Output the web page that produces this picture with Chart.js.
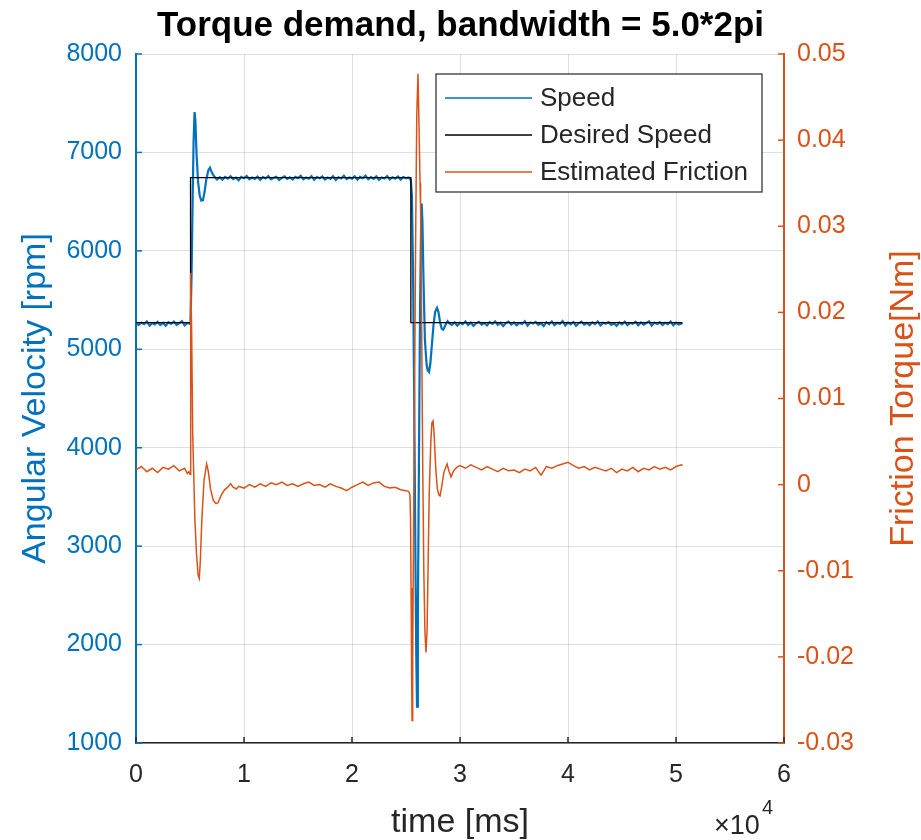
<!DOCTYPE html>
<html lang="en">
<head>
<meta charset="utf-8">
<title>Torque demand, bandwidth = 5.0*2pi</title>
<script src="https://cdn.jsdelivr.net/npm/chart.js@4/dist/chart.umd.min.js"></script>
<style>
  html, body { margin: 0; padding: 0; background: #fff; }
  canvas { display: block; }
</style>
</head>
<body>
<canvas id="chart" width="921" height="840"></canvas>
<script>
// [time ms, rpm]
const speedPoints = [
  [0,5262],[250,5248],[500,5271],[750,5255],[1000,5283],[1250,5241],[1500,5266],[1750,5252],[2000,5278],[2250,5246],
  [2500,5269],[2750,5238],[3000,5274],[3250,5257],[3500,5281],[3750,5249],[4000,5263],[4250,5286],[4500,5244],[4750,5268],
  // step up
  [5000,5258],[5060,5300],[5150,5800],[5250,6550],[5330,7100],[5420,7410],[5500,7320],[5600,7000],[5750,6700],[5900,6560],
  [6050,6510],[6200,6515],[6350,6600],[6500,6720],[6700,6820],[6850,6845],[7000,6800],[7250,6755],[7500,6725],
  [7750,6748],[8000,6722],[8250,6751],[8500,6733],[8750,6758],[9000,6729],[9250,6745],[9500,6717],[9750,6752],[10000,6738],
  [10250,6761],[10500,6726],[10750,6744],[11000,6730],[11250,6755],[11500,6721],[11750,6749],[12000,6735],[12250,6760],[12500,6727],
  [12750,6743],[13000,6752],[13250,6719],[13500,6741],[13750,6757],[14000,6732],[14250,6748],[14500,6724],[14750,6753],[15000,6739],
  [15250,6762],[15500,6728],[15750,6746],[16000,6733],[16250,6759],[16500,6722],[16750,6750],[17000,6737],[17250,6756],[17500,6725],
  [17750,6744],[18000,6731],[18250,6758],[18500,6720],[18750,6747],[19000,6736],[19250,6763],[19500,6729],[19750,6745],[20000,6734],
  [20250,6757],[20500,6723],[20750,6751],[21000,6738],[21250,6764],[21500,6727],[21750,6749],[22000,6732],[22250,6756],[22500,6721],
  [22750,6746],[23000,6735],[23250,6760],[23500,6726],[23750,6748],[24000,6733],[24250,6755],[24500,6724],[24750,6750],[25000,6737],
  [25250,6745],
  // step down
  [25450,6720],[25550,6550],[25650,5800],[25750,4600],[25850,3200],[25950,1900],[26020,1370],[26100,2300],[26200,3900],[26300,5400],
  [26400,6300],[26450,6480],[26520,6300],[26620,5700],[26750,5100],[26900,4850],[27000,4790],[27130,4770],[27250,4850],[27400,5050],
  [27550,5250],[27700,5380],[27870,5420],[28000,5380],[28150,5280],[28300,5210],[28430,5200],[28550,5220],[28700,5260],[28850,5285],
  [29000,5262],
  [29250,5248],[29500,5274],[29750,5241],[30000,5269],[30250,5255],[30500,5283],[30750,5246],[31000,5271],[31250,5238],[31500,5264],
  [31750,5279],[32000,5251],[32250,5267],[32500,5243],[32750,5276],[33000,5259],[33250,5284],[33500,5247],[33750,5270],[34000,5236],
  [34250,5266],[34500,5281],[34750,5252],[35000,5273],[35250,5244],[35500,5268],[35750,5257],[36000,5285],[36250,5240],[36500,5272],
  [36750,5261],[37000,5278],[37250,5249],[37500,5265],[37750,5237],[38000,5275],[38250,5254],[38500,5282],[38750,5246],[39000,5269],
  [39250,5258],[39500,5286],[39750,5242],[40000,5271],[40250,5253],[40500,5277],[40750,5239],[41000,5264],[41250,5280],[41500,5250],
  [41750,5267],[42000,5245],[42250,5274],[42500,5256],[42750,5283],[43000,5241],[43250,5270],[43500,5259],[43750,5276],[44000,5248],
  [44250,5265],[44500,5237],[44750,5272],[45000,5254],[45250,5281],[45500,5246],[45750,5268],[46000,5260],[46250,5279],[46500,5243],
  [46750,5273],[47000,5251],[47250,5266],[47500,5284],[47750,5240],[48000,5271],[48250,5257],[48500,5275],[48750,5247],[49000,5269],
  [49250,5255],[49500,5282],[49750,5244],[50000,5270],[50250,5252],[50500,5263],[50600,5258]
];

// [time ms, rpm]
const desiredPoints = [
  [0,5270],[5050,5270],[5050,6745],[25450,6745],[25450,5270],[50600,5270]
];

// [time ms, Nm]
const frictionPoints = [
  [0,0.0017],[500,0.0021],[1000,0.0015],[1500,0.0019],[2000,0.0014],[2500,0.0020],[3000,0.0018],[3500,0.0022],[4000,0.0016],[4500,0.0019],
  [4750,0.0013],[4900,0.0015],[5000,0.0012],
  [5040,0.012],[5090,0.0246],[5150,0.018],[5250,0.006],[5350,0.001],[5450,-0.004],[5600,-0.008],[5750,-0.0105],[5860,-0.0109],
  [5950,-0.009],[6100,-0.004],[6300,0.0005],[6540,0.0024],[6700,0.0015],[6900,-0.0005],[7150,-0.0018],[7400,-0.0022],[7600,-0.0021],
  [7900,-0.0012],[8200,-0.0006],[8500,-0.0003],[8750,0.0001],[9000,-0.0003],[9300,-0.0005],
  [9500,-0.0002],[10000,-0.0004],[10500,0.0000],[11000,-0.0003],[11500,0.0001],[12000,-0.0002],[12500,0.0002],[13000,0.0000],
  [13500,0.0003],[14000,-0.0001],[14500,0.0001],[15000,-0.0002],[15500,0.0001],[16000,0.0003],[16500,-0.0001],[17000,0.0000],
  [17500,-0.0003],[18000,0.0001],[18500,-0.0002],[19000,-0.0004],[19500,-0.0007],[20000,-0.0003],[20500,0.0000],[21000,0.0003],
  [21500,-0.0001],[22000,0.0002],[22500,0.0003],[23000,-0.0002],[23500,-0.0004],[24000,-0.0003],[24500,-0.0006],[25000,-0.0007],
  [25250,-0.0008],[25370,-0.0012],[25420,-0.004],[25470,-0.012],[25520,-0.022],[25560,-0.0274],[25620,-0.02],[25700,-0.005],
  [25800,0.012],[25900,0.03],[26000,0.043],[26110,0.0477],[26200,0.042],[26300,0.035],[26350,0.032],[26450,0.018],[26550,0.002],
  [26650,-0.01],[26750,-0.017],[26850,-0.0195],[26950,-0.017],[27050,-0.009],[27150,-0.001],[27300,0.005],[27400,0.0072],
  [27500,0.0074],[27600,0.006],[27750,0.002],[27900,-0.0005],[28050,-0.0012],[28150,-0.0013],[28300,-0.0003],[28500,0.0014],
  [28800,0.0024],[29000,0.0015],[29170,0.0009],[29400,0.0016],[29700,0.0020],
  [30000,0.0022],[30500,0.0019],[31000,0.0023],[31500,0.0020],[32000,0.0017],[32500,0.0021],[33000,0.0018],[33500,0.0015],
  [34000,0.0019],[34500,0.0016],[35000,0.0017],[35500,0.0014],[36000,0.0018],[36500,0.0016],[37000,0.0020],[37500,0.0011],
  [38000,0.0021],[38500,0.0019],[39000,0.0022],[39500,0.0024],[40000,0.0026],[40500,0.0022],[41000,0.0019],[41500,0.0021],
  [42000,0.0017],[42500,0.0020],[43000,0.0018],[43500,0.0016],[44000,0.0019],[44500,0.0014],[45000,0.0018],[45500,0.0016],
  [46000,0.0020],[46500,0.0015],[47000,0.0019],[47500,0.0017],[48000,0.0021],[48500,0.0018],[49000,0.0020],[49500,0.0017],
  [50000,0.0021],[50500,0.0023],[50600,0.0022]
];

const timeTicks = [0, 10000, 20000, 30000, 40000, 50000, 60000];
const speedTicks = [1000, 2000, 3000, 4000, 5000, 6000, 7000, 8000];
const frictionTicks = [-0.03, -0.02, -0.01, 0, 0.01, 0.02, 0.03, 0.04, 0.05];

const BLUE = '#0072BD';
const ORANGE = '#D95319';
const TEXT = '#262626';
const GRID = 'rgba(38,38,38,0.15)';
const FONT = "'Liberation Sans', Arial, sans-serif";

Chart.defaults.font.family = FONT;

function toXY(points) {
  return points.map(p => ({ x: p[0], y: p[1] }));
}

function useTicks(values) {
  return scale => { scale.ticks = values.map(v => ({ value: v })); };
}

function line(ctx, x1, y1, x2, y2) {
  ctx.beginPath();
  ctx.moveTo(x1, y1);
  ctx.lineTo(x2, y2);
  ctx.stroke();
}

// inner tick marks, x10^4 note, right y label and the boxed legend
const matlabDecor = {
  id: 'matlabDecor',
  afterDraw(chart) {
    const { ctx, chartArea: a, scales } = chart;
    ctx.save();
    ctx.lineWidth = 1.5;

    ctx.strokeStyle = TEXT;
    scales.x.ticks.forEach(t => {
      const px = scales.x.getPixelForValue(t.value);
      line(ctx, px, a.bottom, px, a.bottom - 6);
    });
    ctx.strokeStyle = BLUE;
    scales.y.ticks.forEach(t => {
      const py = scales.y.getPixelForValue(t.value);
      line(ctx, a.left, py, a.left + 6, py);
    });
    ctx.strokeStyle = ORANGE;
    scales.y1.ticks.forEach(t => {
      const py = scales.y1.getPixelForValue(t.value);
      line(ctx, a.right, py, a.right - 6, py);
    });

    ctx.fillStyle = TEXT;
    ctx.textAlign = 'left';
    ctx.textBaseline = 'alphabetic';
    ctx.font = '27px ' + FONT;
    ctx.fillText('×10', 714, 834);
    ctx.font = '20px ' + FONT;
    ctx.fillText('4', 762, 814);

    ctx.save();
    ctx.translate(904, (a.top + a.bottom) / 2);
    ctx.rotate(-Math.PI / 2);
    ctx.font = '34px ' + FONT;
    ctx.fillStyle = ORANGE;
    ctx.textAlign = 'center';
    ctx.textBaseline = 'middle';
    ctx.fillText('Friction Torque[Nm]', 0, 0);
    ctx.restore();

    // legend box
    const box = { x: 436, y: 74, w: 326, h: 118 };
    ctx.fillStyle = '#fff';
    ctx.fillRect(box.x, box.y, box.w, box.h);
    ctx.strokeStyle = TEXT;
    ctx.lineWidth = 1.2;
    ctx.strokeRect(box.x, box.y, box.w, box.h);
    ctx.font = '26px ' + FONT;
    ctx.textBaseline = 'middle';
    ctx.textAlign = 'left';
    chart.data.datasets.forEach((ds, i) => {
      const cy = box.y + 24 + i * 37;
      ctx.strokeStyle = ds.borderColor;
      ctx.lineWidth = 1.3;
      line(ctx, box.x + 9, cy, box.x + 96, cy);
      ctx.fillStyle = TEXT;
      ctx.fillText(ds.label, box.x + 104, cy + 1);
    });
    ctx.restore();
  }
};

new Chart(document.getElementById('chart').getContext('2d'), {
  type: 'line',
  data: {
    datasets: [
      { label: 'Speed', data: toXY(speedPoints), yAxisID: 'y', borderColor: BLUE, borderWidth: 2.2, order: 2 },
      { label: 'Desired Speed', data: toXY(desiredPoints), yAxisID: 'y', borderColor: '#000000', borderWidth: 1.3, order: 1 },
      { label: 'Estimated Friction', data: toXY(frictionPoints), yAxisID: 'y1', borderColor: ORANGE, borderWidth: 1.5, order: 0 }
    ]
  },
  options: {
    responsive: false,
    animation: false,
    events: [],
    elements: { point: { radius: 0 }, line: { tension: 0, fill: false } },
    layout: { padding: 0 },
    plugins: {
      legend: { display: false },
      tooltip: { enabled: false },
      title: {
        display: true,
        text: 'Torque demand, bandwidth = 5.0*2pi',
        color: '#000',
        font: { size: 35, weight: 'bold' },
        padding: { top: 5, bottom: 7 }
      }
    },
    scales: {
      x: {
        type: 'linear',
        min: 0,
        max: 60000,
        afterBuildTicks: useTicks(timeTicks),
        afterFit: s => { s.height = 97; s.paddingLeft = 0; s.paddingRight = 0; },
        ticks: { color: TEXT, font: { size: 25 }, padding: 17, maxRotation: 0, callback: v => String(v / 10000) },
        grid: { color: GRID, lineWidth: 1, drawTicks: false },
        border: { color: TEXT, width: 1.5 },
        title: { display: true, text: 'time [ms]', color: TEXT, font: { size: 34, lineHeight: 1.0 }, padding: { top: 0, bottom: 0 } }
      },
      y: {
        position: 'left',
        min: 1000,
        max: 8000,
        afterBuildTicks: useTicks(speedTicks),
        afterFit: s => { s.width = 136; s.paddingTop = 0; s.paddingBottom = 0; },
        ticks: { color: BLUE, font: { size: 25 }, padding: 14, callback: v => String(v) },
        grid: { color: GRID, lineWidth: 1, drawTicks: false },
        border: { color: BLUE, width: 2 },
        title: { display: true, text: 'Angular Velocity [rpm]', color: BLUE, font: { size: 34 }, padding: 15 }
      },
      y1: {
        position: 'right',
        min: -0.03,
        max: 0.05,
        afterBuildTicks: useTicks(frictionTicks),
        afterFit: s => { s.width = 137; s.paddingTop = 0; s.paddingBottom = 0; },
        ticks: { color: ORANGE, font: { size: 25 }, padding: 13, callback: v => (v === 0 ? '0' : v.toFixed(2)) },
        grid: { drawOnChartArea: false, drawTicks: false },
        border: { color: ORANGE, width: 2 }
      }
    }
  },
  plugins: [matlabDecor]
});
</script>
</body>
</html>
